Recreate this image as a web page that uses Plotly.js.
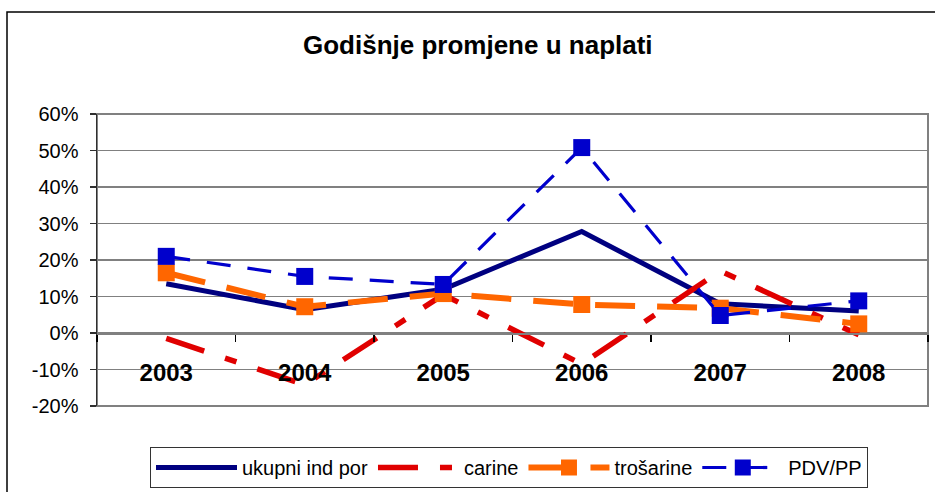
<!DOCTYPE html>
<html>
<head>
<meta charset="utf-8">
<script src="https://cdn.plot.ly/plotly-3.0.1.min.js"></script>
<style>html,body{margin:0;padding:0;background:#fff;}#chart{width:935px;height:492px;}</style>
</head>
<body>
<div id="chart"></div>
<script>
const years = ['2003', '2004', '2005', '2006', '2007', '2008'];
const ukupniIndPor = [0.135, 0.064, 0.12, 0.278, 0.08, 0.06];
const carine = [-0.015, -0.142, 0.105, -0.085, 0.17, -0.005];
const trosarine = [0.165, 0.072, 0.108, 0.078, 0.068, 0.025];
const pdvPP = [0.21, 0.155, 0.133, 0.508, 0.048, 0.088];
const seriesNames = ['ukupni ind por', 'carine', 'trošarine', 'PDV/PP'];
const yTicks = [-0.2, -0.1, 0, 0.1, 0.2, 0.3, 0.4, 0.5, 0.6];
const yTickText = ['-20%', '-10%', '0%', '10%', '20%', '30%', '40%', '50%', '60%'];

const FONT = 'Liberation Sans, Arial, sans-serif';

const traces = [
  {x: years, y: ukupniIndPor, name: seriesNames[0], type: 'scatter', mode: 'lines',
   line: {color: '#000080', width: 5}},
  {x: years, y: carine, name: seriesNames[1], type: 'scatter', mode: 'lines',
   line: {color: '#E00000', width: 5.5, dash: '40px,22px,12px,22px'}},
  {x: years, y: trosarine, name: seriesNames[2], type: 'scatter', mode: 'lines+markers',
   line: {color: '#FF6600', width: 6, dash: '40px,22px'},
   marker: {symbol: 'square', size: 17, color: '#FF6600'}},
  {x: years, y: pdvPP, name: seriesNames[3], type: 'scatter', mode: 'lines+markers',
   line: {color: '#0000CC', width: 3.2, dash: '24px,17px'},
   marker: {symbol: 'square', size: 17, color: '#0000CC'}}
];

const W = 831, H = 292, L = 97, T = 114;
function px(x) { return (x - L) / W; }
function py(y) { return (T + H - y) / H; }

const layout = {
  width: 935, height: 492,
  margin: {l: L, r: 935 - L - W, t: T, b: 492 - T - H, pad: 0, autoexpand: false},
  paper_bgcolor: '#ffffff', plot_bgcolor: '#ffffff',
  font: {family: FONT, color: '#000000', size: 20},
  title: {text: '<b>Godišnje promjene u naplati</b>', font: {family: FONT, size: 26, color: '#000'},
          xref: 'container', x: 0.511, xanchor: 'center', yref: 'container', y: 1 - 45 / 492, yanchor: 'middle'},
  showlegend: true,
  legend: {orientation: 'h', xref: 'container', yref: 'container', x: 150 / 935, y: 1 - 447 / 492,
           xanchor: 'left', yanchor: 'top',
           bgcolor: 'rgba(0,0,0,0)', bordercolor: '#333333', borderwidth: 1,
           font: {family: FONT, size: 20, color: '#000'}, itemwidth: 81, traceorder: 'normal'},
  xaxis: {type: 'category', range: [-0.5, 5.5], anchor: 'free', position: 0.25,
          showline: true, linecolor: '#808080', linewidth: 1.5,
          ticks: 'outside', tickson: 'boundaries', ticklen: 7, tickcolor: '#000', tickwidth: 1.5,
          showgrid: false, zeroline: false, fixedrange: true, automargin: false,
          tickfont: {family: FONT, size: 24, color: '#000', weight: 'bold'}, ticklabelstandoff: 18},
  yaxis: {range: [-0.2, 0.6], tickvals: yTicks, ticktext: yTickText,
          showline: true, linecolor: '#303030', linewidth: 1.5,
          ticks: 'outside', ticklen: 6, tickcolor: '#303030', tickwidth: 1.5,
          showgrid: true, gridcolor: '#808080', gridwidth: 1.5, zeroline: false, automargin: false,
          tickfont: {family: FONT, size: 20, color: '#000'}, ticklabelstandoff: 7, fixedrange: true},
  shapes: [
    {type: 'rect', xref: 'paper', yref: 'paper', x0: 0, x1: 1, y0: 0, y1: 1,
     line: {color: '#808080', width: 2}, layer: 'below'},
    {type: 'rect', xref: 'paper', yref: 'paper', x0: px(7), x1: px(945), y0: py(500), y1: py(12),
     line: {color: '#000', width: 1.5}, layer: 'below'}
  ]
};

Plotly.newPlot('chart', traces, layout, {displayModeBar: false, staticPlot: true});
</script>
</body>
</html>
